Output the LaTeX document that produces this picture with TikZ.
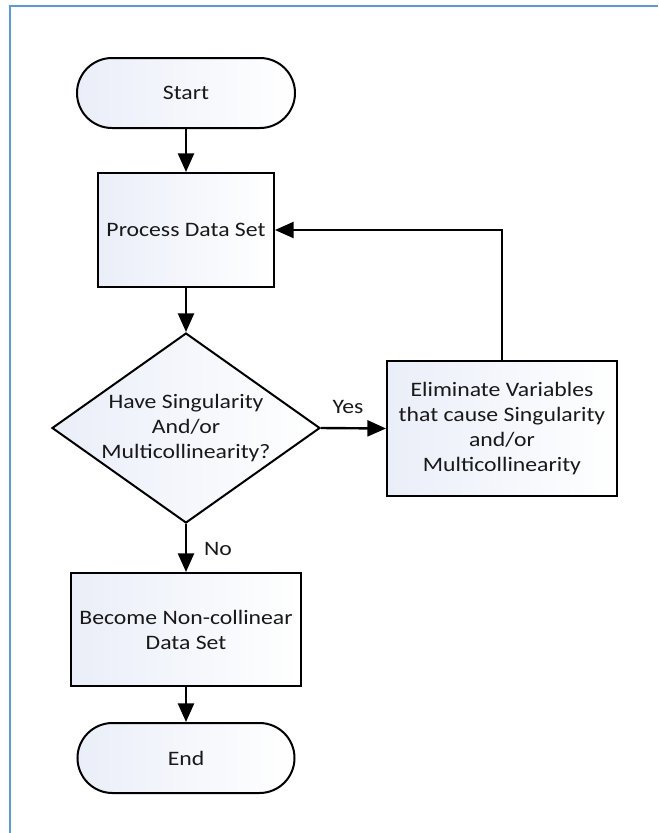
\documentclass[tikz,border=0pt]{standalone}
\usepackage{fontspec}
\setmainfont{Carlito}[FakeStretch=1.155]
\usetikzlibrary{shapes.geometric,arrows.meta}
\definecolor{frameblue}{RGB}{91,155,213}
\definecolor{boxtint}{RGB}{234,238,248}
\definecolor{inkgrey}{RGB}{25,25,25}
\begin{document}
\begin{tikzpicture}[x=0.75pt,y=-0.75pt,
  font=\fontsize{15.4pt}{18.75pt}\selectfont,
  base/.style={draw=black, line width=1.5pt, left color=boxtint, right color=white,
               text=inkgrey, align=center, inner sep=0pt},
  terminal/.style={base, rectangle, rounded corners=26.25pt, minimum height=52.5pt},
  procbox/.style={base, rectangle},
  decision/.style={base, diamond},
  flow/.style={line width=1.8pt, -{Triangle[length=14pt,width=12pt]}},
  lbl/.style={text=inkgrey}]
\useasboundingbox (0,0) rectangle (658,833);

% page frame
\draw[frameblue, line width=1.6pt] (10,833) -- (10,6) -- (658,6);

% flowchart nodes
\node[terminal, minimum width=163.5pt] (start) at (186,93) {Start};
\node[procbox, minimum width=132pt, minimum height=85.5pt] (proc) at (186,230) {Process Data Set};
\node[decision, minimum width=201pt, minimum height=142.5pt] (dec) at (186,428) {};
\node[lbl, align=center] (dectext) at (dec.center) {Have Singularity\\And/or\\Multicollinearity?};
\node[procbox, minimum width=172.5pt, minimum height=101.25pt] (elim) at (502,428.5)
  {Eliminate Variables\\that cause Singularity\\and/or\\Multicollinearity};
\node[procbox, minimum width=172.5pt, minimum height=84.75pt] (become) at (186,629.5)
  {Become Non-collinear\\Data Set};
\node[terminal, minimum width=162.75pt] (end) at (186,758) {End};

% branch labels
\node[lbl] (yes) at (348,407) {Yes};
\node[lbl] (no) at (218,549) {No};

% connectors
\draw[flow] (start) -- (proc);
\draw[flow] (proc) -- (dec);
\draw[flow] (dec.east) -- (elim.west);
\draw[flow] (elim.north) |- (proc.east);
\draw[flow] (dec.south) -- (become.north);
\draw[flow] (become) -- (end);
\end{tikzpicture}
\end{document}
